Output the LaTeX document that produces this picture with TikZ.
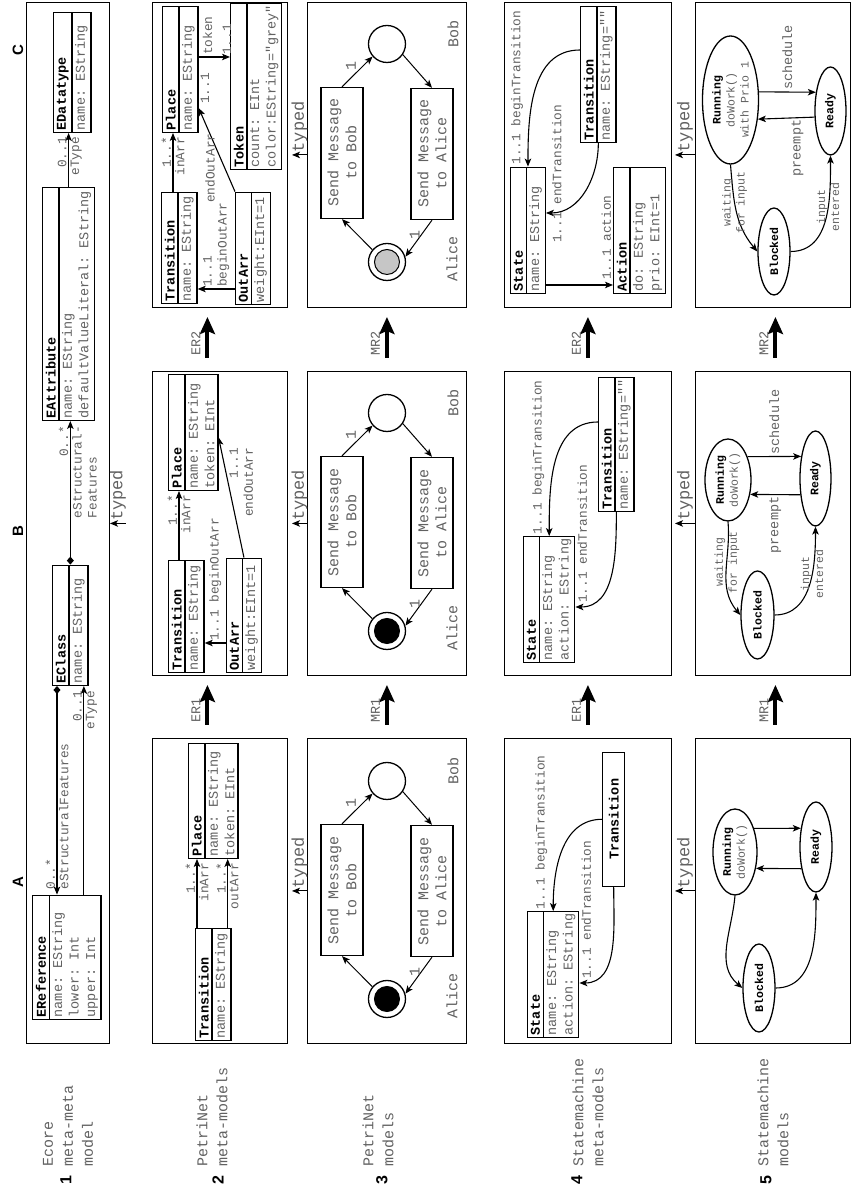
\documentclass[tikz,border=0pt]{standalone}
\usepackage{fontspec}
\setmonofont{Liberation Mono}
\renewcommand{\familydefault}{\ttdefault}
\newfontfamily\hdfont{Liberation Sans}
\usetikzlibrary{arrows.meta, shapes.multipart, shapes.geometric}

\colorlet{txt}{black!62}
\newcommand{\fcls}{\fontsize{13.5}{16.5}\selectfont}
\newcommand{\flbl}{\fontsize{12.8}{15}\selectfont}
\newcommand{\fnet}{\fontsize{15}{18}\selectfont}
\newcommand{\frow}{\fontsize{15}{20}\selectfont}
\newcommand{\ftyped}{\fontsize{17}{20}\selectfont}
\newcommand{\fstate}{\fontsize{11.5}{14}\selectfont}
\newcommand{\cname}[1]{\textcolor{black}{\bfseries #1}}

\tikzset{
  rowbox/.style={draw, line width=1.1pt, anchor=south west, inner sep=0pt},
  cls/.style={draw, line width=1.4pt, rectangle split, rectangle split parts=2,
    rectangle split part align={left}, align=left, anchor=north west,
    inner xsep=2pt, inner ysep=2.5pt, font=\fcls, text=txt},
  clsone/.style={draw, line width=1.4pt, anchor=north west, font=\fcls\bfseries, inner sep=2pt},
  lbl/.style={font=\flbl, text=txt, inner sep=1.5pt},
  smlbl/.style={font=\fstate, text=txt, inner sep=1pt, align=center},
  typedlbl/.style={font=\ftyped, text=txt, inner sep=2pt},
  biglbl/.style={font=\fcls, text=txt, inner sep=0pt, yshift=5pt},
  bigarrow/.style={line width=4pt, -{Stealth[length=17pt,width=15pt,inset=3pt]}},
  comp/.style={arrows={Diamond[length=8pt,width=7pt]-Stealth[length=8pt,width=6.5pt,inset=2pt]}},
  colhd/.style={font=\hdfont\bfseries\fontsize{15}{18}\selectfont},
  rownum/.style={font=\hdfont\bfseries\fontsize{16}{18}\selectfont, inner sep=0pt},
  rowtxt/.style={font=\frow, text=txt, anchor=west, align=left, inner sep=0pt},
  pntrans/.style={draw, line width=1.3pt, minimum width=131pt, minimum height=42pt,
    font=\fnet, text=txt, align=center, inner sep=0pt},
  pnplace/.style={draw, circle, line width=1.3pt, minimum size=37pt, inner sep=0pt},
  pntoken/.style={draw, circle, line width=1pt, minimum size=25pt, inner sep=0pt},
  pnname/.style={font=\fnet, text=txt, inner sep=0pt},
  pnlbl/.style={font=\fnet, text=txt, inner sep=1pt},
  pnarc/.style={->, line width=1pt},
  smstate/.style={draw, ellipse, line width=1.3pt, inner sep=0pt, font=\fstate, text=txt, align=center},
}

\begin{document}
\begin{tikzpicture}[x=1pt, y=1pt, rotate=90, transform shape,
  >={Stealth[length=8pt,width=6.5pt,inset=2pt]}, line width=1.1pt]
\useasboundingbox (0,0) rectangle (1192,852);

% --- column heads and row captions ---
\node[colhd] (hdA) at (310,834) {A};
\node[colhd] (hdB) at (661,834) {B};
\node[colhd] (hdC) at (1142,834) {C};
\node[rownum] (n1) at (12,786) {1};
\node[rowtxt] (t1) at (25,784) {Ecore\\meta-meta\\model};
\node[rownum] (n2) at (12,634) {2};
\node[rowtxt] (t2) at (25,640) {PetriNet\\meta-models};
\node[rownum] (n3) at (12,470) {3};
\node[rowtxt] (t3) at (25,474) {PetriNet\\models};
\node[rownum] (n4) at (12,275) {4};
\node[rowtxt] (t4) at (25,264) {Statemachine\\meta-models};
\node[rownum] (n5) at (12,86) {5};
\node[rowtxt] (t5) at (25,79) {Statemachine\\models};

% --- frames ---
\node[rowbox, minimum width=1041pt, minimum height=83pt] (r1) at (148,742) {};
\node[rowbox, minimum width=305pt, minimum height=135pt] (r2-a) at (148,564) {};
\node[rowbox, minimum width=304pt, minimum height=135pt] (r2-b) at (516,564) {};
\node[rowbox, minimum width=305pt, minimum height=135pt] (r2-c) at (884,564) {};
\node[rowbox, minimum width=305pt, minimum height=159pt] (r3-a) at (148,385) {};
\node[rowbox, minimum width=304pt, minimum height=159pt] (r3-b) at (516,385) {};
\node[rowbox, minimum width=305pt, minimum height=159pt] (r3-c) at (884,385) {};
\node[rowbox, minimum width=305pt, minimum height=167pt] (r4-a) at (148,180) {};
\node[rowbox, minimum width=304pt, minimum height=167pt] (r4-b) at (516,180) {};
\node[rowbox, minimum width=305pt, minimum height=167pt] (r4-c) at (884,180) {};
\node[rowbox, minimum width=305pt, minimum height=155pt] (r5-a) at (148,1) {};
\node[rowbox, minimum width=304pt, minimum height=155pt] (r5-b) at (516,1) {};
\node[rowbox, minimum width=305pt, minimum height=155pt] (r5-c) at (884,1) {};

% --- typed and refinement arrows ---
\draw[->] ([yshift=26pt]r2-b.north) -- (r2-b.north |- r1.south) node[typedlbl, midway, right] {typed};
\foreach \c in {a,b,c}{
  \draw[->] (r3-\c.north) -- ([yshift=-4pt]r2-\c.south) node[typedlbl, midway, right] {typed};
  \draw[->] (r5-\c.north) -- ([yshift=-3pt]r4-\c.south) node[typedlbl, midway, right] {typed};
}
\draw[bigarrow] ([xshift=13pt,yshift=12.5pt]r2-a.east) -- ([xshift=-9pt,yshift=12.5pt]r2-b.west) node[biglbl, pos=0, anchor=south west] {ER1};
\draw[bigarrow] ([xshift=13pt,yshift=12.5pt]r2-b.east) -- ([xshift=-9pt,yshift=12.5pt]r2-c.west) node[biglbl, pos=0, anchor=south west] {ER2};
\draw[bigarrow] ([xshift=13pt]r3-a.east) -- ([xshift=-9pt]r3-b.west) node[biglbl, pos=0, anchor=south west] {MR1};
\draw[bigarrow] ([xshift=13pt]r3-b.east) -- ([xshift=-9pt]r3-c.west) node[biglbl, pos=0, anchor=south west] {MR2};
\draw[bigarrow] ([xshift=13pt]r4-a.east) -- ([xshift=-9pt]r4-b.west) node[biglbl, pos=0, anchor=south west] {ER1};
\draw[bigarrow] ([xshift=13pt]r4-b.east) -- ([xshift=-9pt]r4-c.west) node[biglbl, pos=0, anchor=south west] {ER2};
\draw[bigarrow] ([xshift=13pt,yshift=-2.5pt]r5-a.east) -- ([xshift=-9pt,yshift=-2.5pt]r5-b.west) node[biglbl, pos=0, anchor=south west] {MR1};
\draw[bigarrow] ([xshift=13pt,yshift=-2.5pt]r5-b.east) -- ([xshift=-9pt,yshift=-2.5pt]r5-c.west) node[biglbl, pos=0, anchor=south west] {MR2};

% --- 1: Ecore ---
\node[cls, minimum width=124pt] (eref) at (172,820) {\cname{EReference}\nodepart{two}name: EString\\lower: Int\\upper: Int};
\node[cls, minimum width=120pt] (ecls) at (506,800) {\cname{EClass}\nodepart{two}name: EString};
\node[cls, minimum width=233pt] (eatt) at (771,810) {\cname{EAttribute}\nodepart{two}name: EString\\defaultValueLiteral: EString};
\node[cls, minimum width=120pt] (edt) at (1059,799) {\cname{EDatatype}\nodepart{two}name: EString};
\draw[comp] ([yshift=-5pt]ecls.north west) -- ([yshift=-5pt]ecls.north west -| eref.east)
  node[lbl, pos=1, anchor=south west, xshift=3pt] {0..*}
  node[lbl, pos=1, anchor=north west, xshift=3pt] {eStructuralFeatures};
\draw[->] ([yshift=18pt]eref.south east) -- ([yshift=18pt]eref.south east -| ecls.west)
  node[lbl, pos=1, anchor=south east, xshift=-3pt] {0..1}
  node[lbl, pos=1, anchor=north east, xshift=-3pt] {eType};
\draw[comp] (ecls.east) -- (ecls.east -| eatt.west)
  node[lbl, pos=1, anchor=south east, xshift=-3pt] {0..*}
  node[lbl, pos=1, anchor=north east, xshift=-3pt, align=left] {eStructural-\\Features};
\draw[->] (eatt.east) -- (eatt.east -| edt.west)
  node[lbl, pos=1, anchor=south east, xshift=-2pt] {0..1}
  node[lbl, pos=1, anchor=north east, xshift=-2pt] {eType};

% --- 2: PetriNet meta-models ---
\node[cls, minimum width=112pt] (tr2a) at (151,657) {\cname{Transition}\nodepart{two}name: EString};
\node[cls, minimum width=115pt] (pl2a) at (333,664) {\cname{Place}\nodepart{two}name: EString\\token: EInt};
\draw[->] ([yshift=-2pt]tr2a.north east) -- ([yshift=-2pt]tr2a.north east -| pl2a.west)
  node[lbl, pos=1, anchor=south east, xshift=-2pt] {1..*}
  node[lbl, pos=1, anchor=north east, xshift=-2pt] {inArr};
\draw[->] ([yshift=4pt]tr2a.south east) -- ([yshift=4pt]tr2a.south east -| pl2a.west)
  node[lbl, pos=1, anchor=south east, xshift=-2pt] {1..*}
  node[lbl, pos=1, anchor=north east, xshift=-2pt] {outArr};

\node[cls, minimum width=112pt] (tr2b) at (519,684) {\cname{Transition}\nodepart{two}name: EString};
\node[cls, minimum width=114pt] (oa2b) at (519,626) {\cname{OutArr}\nodepart{two}weight:EInt=1};
\node[cls, minimum width=116pt] (pl2b) at (701,684) {\cname{Place}\nodepart{two}name: EString\\token: EInt};
\draw[->] ([yshift=-11pt]tr2b.north east) -- ([yshift=-11pt]tr2b.north east -| pl2b.west)
  node[lbl, pos=1, anchor=south east, xshift=-2pt] {1..*}
  node[lbl, pos=1, anchor=north east, xshift=-2pt] {inArr};
\draw[->] ([xshift=30pt]oa2b.north west) -- ([xshift=30pt]tr2b.south west)
  node[lbl, midway, right] {1..1 beginOutArr};
\draw[->] (oa2b.east) -- ([xshift=-5pt]pl2b.south)
  node[lbl, pos=0.93, anchor=north east, yshift=-7pt, align=right] {1..1\\endOutArr};

\node[cls, minimum width=111pt] (tr2c) at (888,691) {\cname{Transition}\nodepart{two}name: EString};
\node[cls, minimum width=112pt] (oa2c) at (887,617) {\cname{OutArr}\nodepart{two}weight:EInt=1};
\node[cls, minimum width=126pt] (pl2c) at (1059,690) {\cname{Place}\nodepart{two}name: EString};
\node[cls, minimum width=165pt] (tk2c) at (1022,622) {\cname{Token}\nodepart{two}count: EInt\\color:EString="grey"};
\draw[->] ([yshift=-12pt]tr2c.north east) -- ([yshift=-12pt]tr2c.north east -| pl2c.west)
  node[lbl, pos=1, anchor=south east, xshift=-2pt] {1..*}
  node[lbl, pos=1, anchor=north east, xshift=-2pt] {inArr};
\draw[->] ([xshift=76pt]pl2c.south west) -- ([xshift=76pt]pl2c.south west |- tk2c.north)
  node[lbl, pos=0.28, right] {token}
  node[lbl, pos=0.9, right] {1..1};
\draw[->] ([xshift=16pt]oa2c.north west) -- ([xshift=16pt]oa2c.north west |- tr2c.south)
  node[lbl, midway, right, align=left] {1..1\\beginOutArr};
\draw[->] (oa2c.north east) -- ([xshift=25pt]pl2c.south west)
  node[lbl, pos=0.28, above, yshift=8pt] {endOutArr}
  node[lbl, pos=1, anchor=north west, xshift=2pt] {1..1};

% --- 3: PetriNet models ---
\foreach \col/\uu/\tok in {a/148/black, b/516/black, c/885/gray!45}{
  \begin{scope}[shift={(\uu,385)}]
    \node[pntrans] (sb\col) at (154,125) {Send Message\\to Bob};
    \node[pntrans] (sa\col) at (153,35) {Send Message\\to Alice};
    \node[pnplace] (pb\col) at (263,80) {};
    \node[pnplace] (pa\col) at (45,80) {};
    \node[pntoken, fill=\tok] (tk\col) at (45,80) {};
    \node[pnname] (nb\col) at (273,14) {Bob};
    \node[pnname] (na\col) at (48,15) {Alice};
    \draw[pnarc] (sb\col.east) -- (pb\col.131) node[pnlbl, pos=0.5, above right] {1};
    \draw[pnarc] (pb\col.-124) -- (sa\col.east);
    \draw[pnarc] (sa\col.west) -- (pa\col.-74) node[pnlbl, pos=0.41, above] {1};
    \draw[pnarc] (pa\col.50) -- (sb\col.west);
  \end{scope}
}

% --- 4: Statemachine meta-models ---
\node[cls, minimum width=123pt] (st4a) at (154,325) {\cname{State}\nodepart{two}name: EString\\action: EString};
\node[clsone, minimum width=134pt, minimum height=22pt] (tr4a) at (305,250) {Transition};
\draw[->] (tr4a.north) to[out=90, in=0]
  node[lbl, pos=1, anchor=south west, yshift=4pt] {1..1 beginTransition} (st4a.east);
\draw[->] (tr4a.west) to[out=180, in=-90]
  node[lbl, pos=1, anchor=north west, xshift=2pt] {1..1 endTransition} ([xshift=55pt]st4a.south west);

\node[cls, minimum width=123pt] (st4b) at (529,329) {\cname{State}\nodepart{two}name: EString\\action: EString};
\node[cls, minimum width=134pt] (tr4b) at (680,254) {\cname{Transition}\nodepart{two}name: EString=""};
\draw[->] ([xshift=90pt]tr4b.north west) to[out=90, in=0]
  node[lbl, pos=1, anchor=south west, yshift=3pt] {1..1 beginTransition} (st4b.east);
\draw[->] (tr4b.west) to[out=180, in=-90]
  node[lbl, pos=1, anchor=north west, xshift=2pt] {1..1 endTransition} ([xshift=56pt]st4b.south west);

\node[cls, minimum width=126pt] (st4c) at (898,342) {\cname{State}\nodepart{two}name: EString};
\node[cls, minimum width=126pt] (ac4c) at (898,239) {\cname{Action}\nodepart{two}do: EString\\prio: EInt=1};
\node[cls, minimum width=136pt] (tr4c) at (1049,272) {\cname{Transition}\nodepart{two}name: EString=""};
\draw[->] ([xshift=93pt]tr4c.north west) to[out=90, in=0]
  node[lbl, pos=1, anchor=south west, yshift=3pt] {1..1 beginTransition} (st4c.east);
\draw[->] (tr4c.west) to[out=180, in=-90]
  node[lbl, pos=1, anchor=north west, xshift=-32pt, yshift=-4pt] {1..1 endTransition} ([xshift=81pt]st4c.south west);
\draw[->] ([xshift=9pt]st4c.south west) -- ([xshift=9pt]st4c.south west |- ac4c.north)
  node[lbl, pos=1, anchor=south west, xshift=3pt] {1..1 action};

% --- 5: Statemachine models ---
\node[smstate, minimum width=86pt, minimum height=44pt] (run5a) at (340,117) {\cname{Running}\\doWork()};
\node[smstate, minimum width=90pt, minimum height=32pt] (rdy5a) at (345,36) {\cname{Ready}};
\node[smstate, minimum width=88pt, minimum height=32pt] (blk5a) at (204,93) {\cname{Blocked}};
\draw[->] (run5a.-39) -- (rdy5a.39);
\draw[->] (rdy5a.146) -- (run5a.-128);
\draw[->] (run5a.west) to[out=175, in=50] (blk5a.north);
\draw[->] (blk5a.south) to[out=-90, in=180] (rdy5a.west);

\node[smstate, minimum width=82pt, minimum height=46pt] (run5b) at (712,124) {\cname{Running}\\doWork()};
\node[smstate, minimum width=95pt, minimum height=31pt] (rdy5b) at (713.5,36.5) {\cname{Ready}};
\node[smstate, minimum width=88pt, minimum height=33pt] (blk5b) at (577,94.5) {\cname{Blocked}};
\draw[->] (run5b.-40) -- (rdy5b.33) node[lbl, font=\fcls, midway, right] {schedule};
\draw[->] (rdy5b.137) -- (run5b.-123) node[lbl, font=\fcls, midway, left] {preempt};
\draw[->] (run5b.west) to[out=185, in=40] node[smlbl, pos=0.4] {waiting\\for input} (blk5b.north);
\draw[->] (blk5b.south) to[out=-90, in=180] node[smlbl, pos=0.6] {input\\entered} (rdy5b.west);

\node[smstate, inner sep=-4pt, minimum width=128pt, minimum height=56pt] (run5c) at (1092,121.5) {\cname{Running}\\doWork()\\with Prio 1};
\node[smstate, minimum width=88pt, minimum height=31pt] (rdy5c) at (1081,21.5) {\cname{Ready}};
\node[smstate, minimum width=87pt, minimum height=32pt] (blk5c) at (940.5,78) {\cname{Blocked}};
\draw[->] (run5c.-74.5) -- (rdy5c.38) node[lbl, font=\fcls, midway, right] {schedule};
\draw[->] (rdy5c.111) -- (run5c.-125) node[lbl, font=\fcls, pos=0.3, left] {preempt};
\draw[->] (run5c.west) to[out=185, in=40] node[smlbl, pos=0.4] {waiting\\for input} (blk5c.north);
\draw[->] (blk5c.south) to[out=-90, in=180] node[smlbl, pos=0.6] {input\\entered} (rdy5c.west);
\end{tikzpicture}
\end{document}
